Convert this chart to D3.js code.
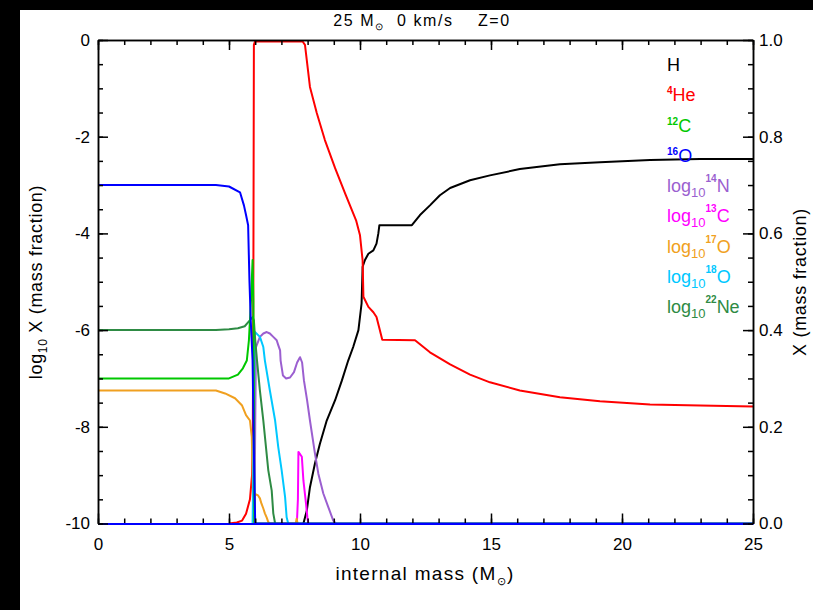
<!DOCTYPE html>
<html>
<head>
<meta charset="utf-8">
<script src="https://cdn.jsdelivr.net/npm/d3@7"></script>
<style>
  body { margin: 0; background: #000; }
  svg text { font-family: "Liberation Sans", Arial, sans-serif; white-space: pre; }
</style>
</head>
<body>
<svg id="chart" width="813" height="610"></svg>
<script>
// Interior composition of a 25 Msun, non-rotating, Z=0 star.
// Linear mass fractions (right axis)
const massH  = [7.84, 7.97, 8.09, 8.28, 8.47, 8.73, 9.05, 9.31, 9.55, 9.74, 9.94, 10.06, 10.10, 10.19, 10.32, 10.51, 10.63, 10.70, 10.74, 11.98, 12.29, 12.67, 13.05, 13.44, 14.2, 14.96, 16.1, 17.63, 19.16, 21.07, 22.98, 25];
const valH   = [0, 0.027, 0.075, 0.124, 0.165, 0.213, 0.255, 0.296, 0.337, 0.365, 0.40, 0.455, 0.531, 0.545, 0.558, 0.565, 0.579, 0.60, 0.617, 0.617, 0.638, 0.658, 0.679, 0.694, 0.71, 0.72, 0.733, 0.743, 0.747, 0.752, 0.754, 0.754];

const massHe = [5.0, 5.3, 5.5, 5.65, 5.8, 5.88, 5.91, 5.93, 5.95, 5.99, 7.81, 7.9, 8.09, 8.35, 8.66, 9.05, 9.45, 9.85, 10.0, 10.1, 10.13, 10.32, 10.51, 10.63, 10.73, 10.85, 12.1, 12.67, 13.44, 14.2, 14.96, 16.1, 17.63, 19.16, 21.07, 22.98, 25];
const valHe  = [0, 0.002, 0.006, 0.02, 0.05, 0.1, 0.2, 0.5, 0.99, 0.997, 0.997, 0.99, 0.903, 0.849, 0.793, 0.735, 0.68, 0.627, 0.596, 0.544, 0.469, 0.448, 0.437, 0.427, 0.406, 0.38, 0.379, 0.354, 0.329, 0.308, 0.292, 0.275, 0.261, 0.253, 0.246, 0.244, 0.242];

const massC12 = [0, 5.0, 5.34, 5.53, 5.68, 5.76, 5.84, 5.9, 5.93, 5.95, 5.97, 25];
const valC12  = [0.30, 0.30, 0.308, 0.321, 0.337, 0.379, 0.462, 0.545, 0.46, 0.255, 0, 0];

const massO16 = [0, 4.5, 5.0, 5.42, 5.57, 5.65, 5.73, 5.78, 5.83, 5.9, 5.95, 6.0, 25];
const valO16  = [0.70, 0.70, 0.697, 0.685, 0.658, 0.638, 0.617, 0.503, 0.42, 0.337, 0.15, 0, 0];

// log10 mass fractions (left axis)
const massN14 = [5.97, 6.0, 6.03, 6.18, 6.31, 6.44, 6.56, 6.69, 6.82, 6.88, 6.95, 6.97, 7.06, 7.18, 7.33, 7.48, 7.6, 7.71, 7.79, 7.86, 7.98, 8.09, 8.28, 8.41, 8.6, 8.79, 8.98, 9.08];
const logN14  = [-10, -8, -6.35, -6.14, -6.07, -6.04, -6.07, -6.14, -6.21, -6.31, -6.42, -6.63, -6.94, -7.0, -6.98, -6.87, -6.67, -6.56, -6.67, -7.04, -7.45, -7.87, -8.55, -8.97, -9.38, -9.66, -9.94, -10];

const massC13 = [7.59, 7.63, 7.65, 7.78, 7.84, 7.94, 7.99, 8.03];
const logC13  = [-10, -9.5, -8.52, -8.62, -9.11, -9.59, -9.87, -10];

const massO17 = [0, 4.5, 4.85, 5.23, 5.5, 5.65, 5.8, 5.87, 5.9, 5.93, 5.98, 5.99, 6.11, 6.18, 6.24, 6.31, 6.37, 6.44, 6.5, 6.56, 7.55, 7.58, 7.62];
const logO17  = [-7.25, -7.25, -7.31, -7.41, -7.56, -7.76, -7.87, -8.21, -8.9, -10, -10, -9.39, -9.42, -9.48, -9.59, -9.69, -9.79, -9.88, -9.97, -10, -10, -9.9, -10];

const massO18 = [5.9, 5.95, 5.97, 5.99, 6.18, 6.31, 6.37, 6.56, 6.76, 6.88, 7.01, 7.14, 7.2, 7.26];
const logO18  = [-10, -8, -6.1, -6.04, -6.14, -6.35, -6.63, -7.25, -7.87, -8.42, -8.9, -9.45, -9.87, -10];

const massNe22 = [0, 4.5, 5.0, 5.34, 5.6, 5.76, 5.9, 5.95, 6.0, 6.07, 6.18, 6.31, 6.5, 6.63, 6.69, 6.76];
const logNe22  = [-6.0, -6.0, -5.98, -5.96, -5.92, -5.82, -5.73, -5.8, -6.2, -6.63, -7.25, -7.87, -8.9, -9.32, -9.79, -10];

// Axis ticks
const xMajor = [0, 5, 10, 15, 20, 25];
const logMajor = [0, -2, -4, -6, -8, -10];
const linMajor = [0, 0.2, 0.4, 0.6, 0.8, 1.0];

const svg = d3.select("#chart");
const W = 813, H = 610;
const plotLeft = 98, plotRight = 753, plotTop = 40, plotBottom = 523.5;

svg.append("rect").attr("width", W).attr("height", H).attr("fill", "#000");
svg.append("rect").attr("x", 20).attr("y", 10).attr("width", W - 20).attr("height", H - 10).attr("fill", "#fff");

const x = d3.scaleLinear().domain([0, 25]).range([plotLeft, plotRight]);
const yLog = d3.scaleLinear().domain([-10, 0]).range([plotBottom, plotTop]);
const yLin = d3.scaleLinear().domain([0, 1]).range([plotBottom, plotTop]);

svg.append("clipPath").attr("id", "plot").append("rect")
  .attr("x", plotLeft).attr("y", plotTop - 2).attr("width", plotRight - plotLeft).attr("height", plotBottom - plotTop + 4);

const g = svg.append("g").attr("clip-path", "url(#plot)");

const series = [
  { m: massH,    v: valH,    y: yLin, color: "#000000" },
  { m: massHe,   v: valHe,   y: yLin, color: "#ff0000" },
  { m: massN14,  v: logN14,  y: yLog, color: "#9b5fd0" },
  { m: massC13,  v: logC13,  y: yLog, color: "#ff00ff" },
  { m: massO17,  v: logO17,  y: yLog, color: "#f0a020" },
  { m: massO18,  v: logO18,  y: yLog, color: "#00c8ff" },
  { m: massNe22, v: logNe22, y: yLog, color: "#2e8b44" },
  { m: massC12,  v: valC12,  y: yLin, color: "#00c800" },
  { m: massO16,  v: valO16,  y: yLin, color: "#0000ff" }
];

series.forEach(s => {
  const pts = s.m.map((m, i) => [m, s.v[i]]);
  const line = d3.line().x(d => x(d[0])).y(d => s.y(d[1]));
  g.append("path").datum(pts)
    .attr("d", line)
    .attr("fill", "none")
    .attr("stroke", s.color)
    .attr("stroke-width", 2)
    .attr("stroke-linejoin", "round");
});

// Axes with inward ticks
const fmtLog = d => String(d);
const axes = svg.append("g");

function styleAxis(sel) {
  sel.select(".domain").attr("stroke", "#000").attr("stroke-width", 1.5);
  sel.selectAll(".tick line").attr("stroke", "#000").attr("stroke-width", 1.5);
  sel.selectAll("text").attr("fill", "#000").attr("font-size", 17)
    .attr("font-family", '"Liberation Sans", Arial, sans-serif');
}

// bottom (baseline drawn in the zero-abundance colour)
axes.append("g").attr("transform", `translate(0,${plotBottom})`)
  .call(d3.axisBottom(x).tickValues(d3.range(0, 26, 1)).tickSize(-5).tickSizeOuter(0).tickFormat(""))
  .call(styleAxis);
axes.append("g").attr("transform", `translate(0,${plotBottom})`)
  .call(d3.axisBottom(x).tickValues(xMajor).tickSize(-10).tickSizeOuter(0).tickPadding(14).tickFormat(d3.format("d")))
  .call(styleAxis)
  .call(sel => sel.select(".domain").attr("stroke", "#0000ff").attr("stroke-width", 2));
// top
axes.append("g").attr("transform", `translate(0,${plotTop})`)
  .call(d3.axisTop(x).tickValues(d3.range(0, 26, 1)).tickSize(-5).tickSizeOuter(0).tickFormat(""))
  .call(styleAxis);
axes.append("g").attr("transform", `translate(0,${plotTop})`)
  .call(d3.axisTop(x).tickValues(xMajor).tickSize(-10).tickSizeOuter(0).tickFormat(""))
  .call(styleAxis);
// left
axes.append("g").attr("transform", `translate(${plotLeft},0)`)
  .call(d3.axisLeft(yLog).tickValues(d3.range(-10, 0.01, 0.5)).tickSize(-5).tickSizeOuter(0).tickFormat(""))
  .call(styleAxis);
axes.append("g").attr("transform", `translate(${plotLeft},0)`)
  .call(d3.axisLeft(yLog).tickValues(logMajor).tickSize(-10).tickSizeOuter(0).tickPadding(8).tickFormat(fmtLog))
  .call(styleAxis);
// right
axes.append("g").attr("transform", `translate(${plotRight},0)`)
  .call(d3.axisRight(yLin).tickValues(d3.range(0, 1.001, 0.05)).tickSize(-5).tickSizeOuter(0).tickFormat(""))
  .call(styleAxis);
axes.append("g").attr("transform", `translate(${plotRight},0)`)
  .call(d3.axisRight(yLin).tickValues(linMajor).tickSize(-10).tickSizeOuter(0).tickPadding(6).tickFormat(d3.format(".1f")))
  .call(styleAxis);

// Title
const title = svg.append("text").attr("x", 422).attr("y", 26).attr("text-anchor", "middle")
  .attr("font-size", 16).attr("letter-spacing", 1.6).attr("fill", "#000");
title.append("tspan").text("25 M");
title.append("tspan").attr("font-size", 10).attr("dy", 4).text("⊙");
title.append("tspan").attr("dy", -4).text("  0 km/s    Z=0");

// X axis label
const xl = svg.append("text").attr("x", 425).attr("y", 580).attr("text-anchor", "middle")
  .attr("font-size", 19).attr("letter-spacing", 1.3).attr("fill", "#000");
xl.append("tspan").text("internal mass (M");
xl.append("tspan").attr("font-size", 11).attr("dy", 5).text("⊙");
xl.append("tspan").attr("dy", -5).text(")");

// Left label
const yl = svg.append("text").attr("transform", "translate(42,282) rotate(-90)").attr("text-anchor", "middle")
  .attr("font-size", 18).attr("letter-spacing", 0.7).attr("fill", "#000");
yl.append("tspan").text("log");
yl.append("tspan").attr("font-size", 12).attr("dy", 5).text("10");
yl.append("tspan").attr("dy", -5).text(" X (mass fraction)");

// Right label
svg.append("text").attr("transform", "translate(806,282) rotate(-90)").attr("text-anchor", "middle")
  .attr("font-size", 18).attr("letter-spacing", 0.7).attr("fill", "#000").text("X (mass fraction)");

// Legend
const legendNames = ["H", "He", "C", "O", "N", "C", "O", "O", "Ne"];
const legendIso   = ["", "4", "12", "16", "14", "13", "17", "18", "22"];
const legendLog   = [false, false, false, false, true, true, true, true, true];
const legendColors = ["#000000", "#ff0000", "#00c800", "#0000ff", "#9b5fd0", "#ff00ff", "#f0a020", "#00c8ff", "#2e8b44"];

const leg = svg.append("g");
legendNames.forEach((nm, i) => {
  const t = leg.append("text").attr("x", 667).attr("y", 71 + i * 30.25)
    .attr("font-size", 18).attr("fill", legendColors[i]);
  if (legendLog[i]) {
    t.append("tspan").text("log");
    t.append("tspan").attr("font-size", 13).attr("dy", 5).text("10");
    t.append("tspan").attr("font-size", 10).attr("font-weight", "bold").attr("dy", -15).text(legendIso[i]);
    t.append("tspan").attr("dy", 10).text(nm);
  } else if (legendIso[i]) {
    t.append("tspan").attr("font-size", 10).attr("font-weight", "bold").attr("dy", -7).text(legendIso[i]);
    t.append("tspan").attr("dy", 7).text(nm);
  } else {
    t.text(nm);
  }
});
</script>
</body>
</html>
